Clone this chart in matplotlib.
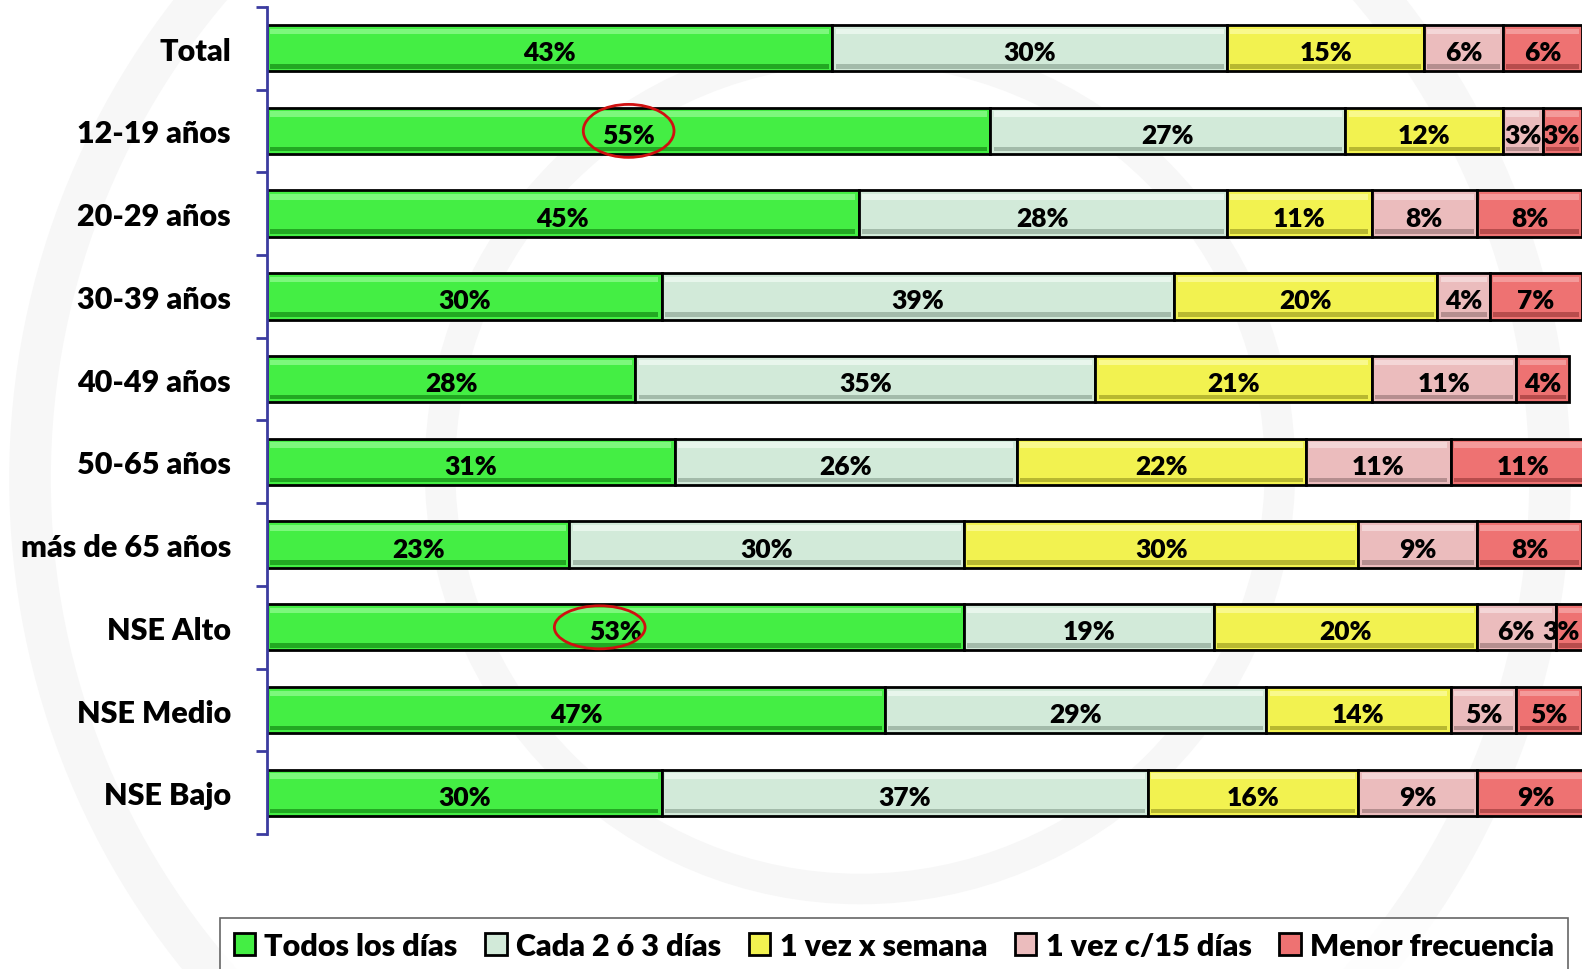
import matplotlib.pyplot as plt
from matplotlib.patches import Ellipse, Circle
import numpy as np

plt.rcParams['font.family'] = ['Lato', 'DejaVu Sans']
plt.rcParams['font.weight'] = 'heavy'

groups = ['Total', '12-19 años', '20-29 años', '30-39 años', '40-49 años',
          '50-65 años', 'más de 65 años', 'NSE Alto', 'NSE Medio', 'NSE Bajo']
series = ['Todos los días', 'Cada 2 ó 3 días', '1 vez x semana',
          '1 vez c/15 días', 'Menor frecuencia']

todos = [43, 55, 45, 30, 28, 31, 23, 53, 47, 30]
cada23 = [30, 27, 28, 39, 35, 26, 30, 19, 29, 37]
semana = [15, 12, 11, 20, 21, 22, 30, 20, 14, 16]
quince = [6, 3, 8, 4, 11, 11, 9, 6, 5, 9]
menor = [6, 3, 8, 7, 4, 11, 8, 3, 5, 9]

colors = ['#44EE44', '#D2EAD9', '#F2F250', '#EBBCBD', '#EE7272']
hilite = ['#7CF87C', '#E8F6EC', '#F9F98C', '#F4D6D7', '#F49A9A']
shade = ['#22A822', '#A3BBAA', '#B8B830', '#B58E8F', '#B84C4C']

fig = plt.figure(figsize=(15.82, 9.70), dpi=100)

# faint watermark rings in a background axes
bg = fig.add_axes([0, 0, 1, 1], zorder=-1)
bg.set_xlim(0, 1582)
bg.set_ylim(970, 0)
bg.set_aspect('equal')
bg.axis('off')
for (cx, cy, r, w) in [(790, 480, 760, 30), (860, 470, 420, 22)]:
    bg.add_patch(Circle((cx, cy), r, fill=False, edgecolor='#F7F7F7', lw=w))

ax = fig.add_axes([0.1688, 0.139, 0.8312, 0.853])
ax.patch.set_alpha(0)

y = np.arange(len(groups))
h = 0.56
left = np.zeros(len(groups))
data = [todos, cada23, semana, quince, menor]
for k, vals in enumerate(data):
    vals = np.array(vals, dtype=float)
    ax.barh(y, vals, left=left, height=h, color=colors[k], edgecolor='black',
            lw=2, label=series[k], zorder=2)
    # bevel: light band at top, dark band at bottom
    ax.barh(y - h * 0.36, vals - 0.5, left=left + 0.25, height=h * 0.12,
            color=hilite[k], lw=0, zorder=3)
    ax.barh(y + h * 0.39, vals - 0.5, left=left + 0.25, height=h * 0.10,
            color=shade[k], lw=0, zorder=3)
    for i, v in enumerate(vals):
        cx = min(left[i] + v / 2, 98.4)
        ax.text(cx, y[i] + 0.05, f'{int(v)}%', ha='center', va='center',
                fontsize=19, fontweight='heavy', color='black', zorder=5)
    left += vals

# highlighted values
for i, dx, hh in [(1, 0.0, 0.64), (7, -1.2, 0.52)]:
    ax.add_patch(Ellipse((todos[i] / 2 + dx, y[i]), 6.9, hh, fill=False,
                         edgecolor='#D01010', lw=2, zorder=6))

ax.set_xlim(0, 100)
ax.set_ylim(len(groups) - 0.5, -0.5)
ax.set_xticks([])
ax.set_yticks(np.arange(-0.5, len(groups)), minor=False)
ax.set_yticklabels([])
ax.set_yticks(y, minor=True)
ax.set_yticklabels(groups, minor=True, fontsize=22, fontweight='heavy')
ax.tick_params(axis='y', which='major', direction='out', length=8, width=2,
               color='#3C3CA0')
ax.tick_params(axis='y', which='minor', length=0, pad=26)
for s in ['top', 'right', 'bottom']:
    ax.spines[s].set_visible(False)
ax.spines['left'].set_color('#3C3CA0')
ax.spines['left'].set_linewidth(2)

handles, labels = ax.get_legend_handles_labels()
leg = fig.legend(handles, labels, loc='upper left', ncol=5,
                 bbox_to_anchor=(0.139, 0.0525, 0.852, 0.0), mode='expand',
                 prop={'size': 22, 'weight': 'heavy'}, frameon=True,
                 fancybox=False, edgecolor='#404040',
                 handlelength=0.7, handleheight=0.7, handletextpad=0.3,
                 columnspacing=0.8, borderpad=0.45, borderaxespad=0)
leg.get_frame().set_linewidth(1.2)

fig.savefig('out.png', dpi=100)
